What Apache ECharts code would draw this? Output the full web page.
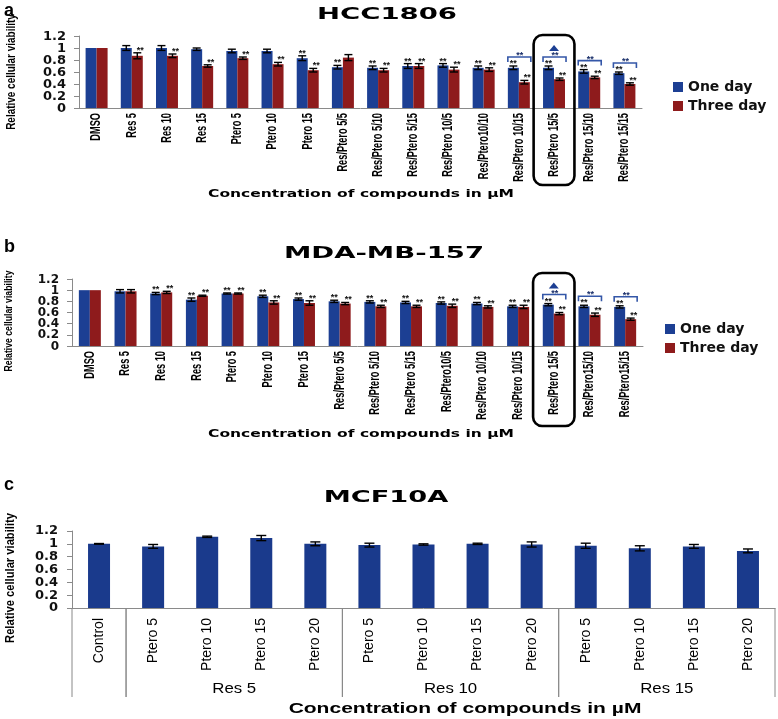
<!DOCTYPE html>
<html><head><meta charset="utf-8">
<script src="https://cdn.jsdelivr.net/npm/echarts@6/dist/echarts.min.js"></script>
<style>html,body{margin:0;padding:0;background:#fff}#c{width:778px;height:719px}</style>
</head><body><div id="c"></div>
<script>
// ---------- Panel a : HCC1806 ----------
const catsA = ['DMSO','Res 5','Res 10','Res 15','Ptero 5','Ptero 10','Ptero 15','Res/Ptero 5/5','Res/Ptero 5/10','Res/Ptero 5/15','Res/Ptero 10/5','Res/Ptero10/10','Res/Ptero 10/15','Res/Ptero 15/5','Res/Ptero 15/10','Res/Ptero 15/15'];
const oneDayA      = [1.00,1.00,1.00,0.98,0.95,0.95,0.83,0.68,0.67,0.70,0.71,0.67,0.67,0.67,0.61,0.58];
const oneDayAErr   = [0,0.04,0.04,0.02,0.03,0.03,0.04,0.03,0.03,0.04,0.03,0.03,0.03,0.03,0.03,0.02];
const threeDayA    = [1.00,0.87,0.87,0.70,0.83,0.73,0.63,0.84,0.63,0.70,0.64,0.64,0.43,0.48,0.51,0.40];
const threeDayAErr = [0,0.05,0.03,0.02,0.02,0.03,0.03,0.05,0.03,0.04,0.04,0.03,0.03,0.02,0.02,0.02];
const starsOneA    = [0,0,0,0,0,0,1,1,1,1,1,1,1,1,1,1];
const starsThreeA  = [0,1,1,1,1,1,1,0,1,1,1,1,1,1,1,1];
const bracketsA    = [12,13,14,15];
const highlightA   = 13;

// ---------- Panel b : MDA-MB-157 ----------
const catsB = ['DMSO','Res 5','Res 10','Res 15','Ptero 5','Ptero 10','Ptero 15','Res/Ptero 5/5','Res/Ptero 5/10','Res/Ptero 5/15','Res/Ptero10/5','Res/Ptero 10/10','Res/Ptero 10/15','Res/Ptero 15/5','Res/Ptero15/10','Res/Ptero15/15'];
const oneDayB      = [1.00,0.98,0.94,0.83,0.94,0.89,0.84,0.80,0.79,0.78,0.77,0.76,0.71,0.74,0.71,0.70];
const oneDayBErr   = [0,0.03,0.02,0.03,0.01,0.02,0.02,0.02,0.02,0.02,0.02,0.02,0.02,0.02,0.02,0.02];
const threeDayB    = [1.00,0.98,0.96,0.90,0.94,0.78,0.77,0.76,0.71,0.71,0.72,0.70,0.70,0.58,0.56,0.48];
const threeDayBErr = [0,0.03,0.02,0.01,0.01,0.03,0.04,0.02,0.02,0.02,0.03,0.02,0.03,0.02,0.03,0.02];
const starsOneB    = [0,0,1,1,1,1,1,1,1,1,1,1,1,1,1,1];
const starsThreeB  = [0,0,1,1,1,1,1,1,1,1,1,1,1,1,1,1];
const bracketsB    = [13,14,15];
const highlightB   = 13;

// ---------- Panel c : MCF10A ----------
const catsC = ['Control','Ptero 5','Ptero 10','Ptero 15','Ptero 20','Ptero 5','Ptero 10','Ptero 15','Ptero 20','Ptero 5','Ptero 10','Ptero 15','Ptero 20'];
const valuesC = [1.00,0.96,1.11,1.09,1.00,0.98,0.99,1.00,0.99,0.97,0.93,0.96,0.89];
const errC    = [0.005,0.03,0.01,0.04,0.03,0.03,0.01,0.01,0.04,0.04,0.04,0.03,0.03];
const groupLabelsC = ['', 'Res 5', 'Res 10', 'Res 15'];
const groupStartC  = [0, 1, 5, 9];
const groupEndC    = [0, 4, 8, 12];

const yTicks = [0, 0.2, 0.4, 0.6, 0.8, 1, 1.2];
const yTickLabels = ['0', '0.2', '0.4', '0.6', '0.8', '1', '1.2'];

// ---------- styling ----------
const BLUE = '#1c3f93', RED = '#8e1b1c', CBLUE = '#1a3a8c';
const WIDE = '"DejaVu Sans", Verdana, sans-serif';
const SANS = '"Liberation Sans", Arial, sans-serif';
const BW = 11; // bar width panels a/b

function errItem(off, cap) {
  return function (params, api) {
    const i = api.value(0), v = api.value(1), e = api.value(2);
    const hi = api.coord([i, v + e]), lo = api.coord([i, v - e]);
    const x = hi[0] + off;
    const st = { stroke: '#000', lineWidth: 1.4 };
    return { type: 'group', children: [
      { type: 'line', shape: { x1: x, y1: hi[1], x2: x, y2: lo[1] }, style: st },
      { type: 'line', shape: { x1: x - cap, y1: hi[1], x2: x + cap, y2: hi[1] }, style: st },
      { type: 'line', shape: { x1: x - cap, y1: lo[1], x2: x + cap, y2: lo[1] }, style: st }
    ] };
  };
}
function starItem(off) {
  return function (params, api) {
    const p = api.coord([api.value(0), api.value(1)]);
    return { type: 'text', x: p[0] + off, y: p[1] + 2,
      style: { text: '**', font: 'bold 9px ' + SANS, fill: '#111', textAlign: 'center', textVerticalAlign: 'bottom' } };
  };
}
function bracketItem(hl) {
  return function (params, api) {
    const i = api.value(0);
    const p = api.coord([i, api.value(1)]);
    const xl = p[0] - 11, xr = p[0] + 12, y = p[1] - 9;
    const ch = [
      { type: 'polyline', shape: { points: [[xl, y + 5], [xl, y], [xr, y], [xr, y + 5]] }, style: { stroke: '#3457a8', lineWidth: 1.6, fill: null } },
      { type: 'text', x: p[0] + 1, y: y + 3, style: { text: '**', font: 'bold 9px ' + SANS, fill: '#1a2f6a', textAlign: 'center', textVerticalAlign: 'bottom' } }
    ];
    if (i === hl) {
      ch.push({ type: 'polygon', shape: { points: [[p[0] - 5, y - 6], [p[0] + 5, y - 6], [p[0], y - 12]] }, style: { fill: BLUE } });
    }
    return { type: 'group', children: ch };
  };
}
function boxItem(topPad, below) {
  return function (params, api) {
    const i = api.value(0);
    const band = api.size([1, 0])[0];
    const top = api.coord([i, 1.2]);
    const bot = api.coord([i, 0]);
    return { type: 'rect', shape: { x: top[0] - band * 0.58, y: top[1] - topPad, width: band * 1.16, height: bot[1] - top[1] + topPad + below, r: 9 },
      style: { stroke: '#000', lineWidth: 2.6, fill: null } };
  };
}
function catLabelItem(labels, gap, size, sx) {
  return function (params, api) {
    const i = api.value(0);
    const p = api.coord([i, 0]);
    return { type: 'text', x: p[0], y: p[1] + gap, rotation: Math.PI / 2, scaleX: sx,
      style: { text: labels[i], font: 'bold ' + size + 'px ' + SANS, fill: '#000', textAlign: 'right', textVerticalAlign: 'middle' } };
  };
}
function yLabelItem(size, gap) {
  return function (params, api) {
    const k = api.value(0);
    const band = api.size([1, 0])[0];
    const p = api.coord([0, yTicks[k]]);
    return { type: 'text', x: p[0] - band / 2 - gap, y: p[1] + 0.5,
      style: { text: yTickLabels[k], font: 'bold ' + size + 'px ' + WIDE, fill: '#111', textAlign: 'right', textVerticalAlign: 'middle' } };
  };
}
function groupItem(params, api) {
  const s = api.value(0), e = api.value(1), gi = api.value(2);
  const band = api.size([1, 0])[0];
  const a = api.coord([s, 0]), b = api.coord([e, 0]);
  const xl = a[0] - band / 2, xr = b[0] + band / 2, y0 = a[1];
  const st = { stroke: '#888', lineWidth: 1 };
  return { type: 'group', children: [
    { type: 'line', shape: { x1: xl, y1: y0, x2: xl, y2: y0 + 89 }, style: st },
    { type: 'line', shape: { x1: xr, y1: y0, x2: xr, y2: y0 + 89 }, style: st },
    { type: 'text', x: (xl + xr) / 2, y: y0 + 81, scaleX: 1.2,
      style: { text: groupLabelsC[gi], font: '14px ' + SANS, fill: '#000', textAlign: 'center', textVerticalAlign: 'middle' } }
  ] };
}

function errData(vals, errs) { return vals.map((v, i) => [i, v, errs[i]]).filter(d => d[2] > 0); }
function starData(vals, errs, flags) { return vals.map((v, i) => [i, v + errs[i]]).filter((d, i) => flags[i]); }
function bracketData(idx, vals, errs) { return idx.map(i => [i, vals[i] + errs[i]]); }

function yAxisCfg(grid, showLabels) {
  return { gridIndex: grid, type: 'value', min: 0, max: 1.2, interval: 0.2,
    axisLine: { show: true, lineStyle: { color: '#8a8a8a', width: 1 } },
    axisTick: { show: true, length: 5, lineStyle: { color: '#8a8a8a' } },
    splitLine: { show: false },
    axisLabel: showLabels ? { margin: 14, showMinLabel: true, showMaxLabel: true,
      fontFamily: WIDE, fontWeight: 'bold', fontSize: 13, color: '#111',
      formatter: v => { const k = yTicks.findIndex(x => Math.abs(x - v) < 1e-6); return k < 0 ? String(v) : yTickLabels[k]; } } : { show: false } };
}
function xAxisCat(grid, data, showLabels) {
  return { gridIndex: grid, type: 'category', data: data,
    axisLine: { lineStyle: { color: '#8a8a8a', width: 1 } }, axisTick: { show: false },
    axisLabel: showLabels ? { interval: 0, rotate: 90, margin: 10, fontFamily: SANS, fontSize: 14, color: '#000' } : { show: false } };
}
function yName(x, y, size, sx) {
  return { type: 'text', x: x, y: y, rotation: Math.PI / 2, scaleX: sx,
    style: { text: 'Relative cellular viability', font: 'bold ' + size + 'px ' + SANS, fill: '#000', textAlign: 'center', textVerticalAlign: 'middle' } };
}

const chart = echarts.init(document.getElementById('c'), null, { renderer: 'canvas' });
const legendBase = { data: ['One day', 'Three day'], orient: 'vertical', icon: 'rect', itemWidth: 10, itemHeight: 10, itemGap: 5,
  textStyle: { fontFamily: WIDE, fontWeight: 'bold', fontSize: 14, color: '#111' } };
const tickIdx = yTicks.map((t, k) => [k]);

const option = {
  animation: false,
  backgroundColor: '#fff',
  grid: [
    { left: 79, right: 136, top: 36, height: 72 },
    { left: 72, right: 135, top: 279, height: 67 },
    { left: 72, right: 3, top: 531, height: 77 }
  ],
  legend: [
    Object.assign({}, legendBase, { left: 668, top: 75 }),
    Object.assign({}, legendBase, { left: 660, top: 317 })
  ],
  xAxis: [xAxisCat(0, catsA, false), xAxisCat(1, catsB, false), xAxisCat(2, catsC, true)],
  yAxis: [yAxisCfg(0, false), yAxisCfg(1, false), yAxisCfg(2, true)],
  graphic: [
    { type: 'text', x: 4, y: 2, style: { text: 'a', font: 'bold 18px ' + SANS, fill: '#000', textVerticalAlign: 'top' } },
    { type: 'text', x: 4, y: 238, style: { text: 'b', font: 'bold 18px ' + SANS, fill: '#000', textVerticalAlign: 'top' } },
    { type: 'text', x: 4, y: 476, style: { text: 'c', font: 'bold 18px ' + SANS, fill: '#000', textVerticalAlign: 'top' } },
    { type: 'text', x: 387, y: 15, scaleX: 1.72, style: { text: 'HCC1806', font: 'bold 16px ' + WIDE, fill: '#000', textAlign: 'center', textVerticalAlign: 'middle' } },
    { type: 'text', x: 384, y: 254, scaleX: 1.72, style: { text: 'MDA-MB-157', font: 'bold 16px ' + WIDE, fill: '#000', textAlign: 'center', textVerticalAlign: 'middle' } },
    { type: 'text', x: 386, y: 498, scaleX: 1.7, style: { text: 'MCF10A', font: 'bold 16px ' + WIDE, fill: '#000', textAlign: 'center', textVerticalAlign: 'middle' } },
    { type: 'text', x: 361, y: 194, scaleX: 1.55, style: { text: 'Concentration of compounds in \u00b5M', font: 'bold 10px ' + WIDE, fill: '#000', textAlign: 'center', textVerticalAlign: 'middle' } },
    { type: 'text', x: 361, y: 434, scaleX: 1.55, style: { text: 'Concentration of compounds in \u00b5M', font: 'bold 10px ' + WIDE, fill: '#000', textAlign: 'center', textVerticalAlign: 'middle' } },
    { type: 'text', x: 465, y: 709, scaleX: 1.5, style: { text: 'Concentration of compounds in \u00b5M', font: 'bold 14px ' + SANS, fill: '#000', textAlign: 'center', textVerticalAlign: 'middle' } },
    yName(12, 72, 12, 0.83),
    yName(9, 321, 11, 0.79),
    yName(10, 578, 13, 0.86)
  ],
  series: [
    // panel a
    { name: 'One day', type: 'bar', xAxisIndex: 0, yAxisIndex: 0, data: oneDayA, barWidth: BW, barGap: '0%', itemStyle: { color: BLUE } },
    { name: 'Three day', type: 'bar', xAxisIndex: 0, yAxisIndex: 0, data: threeDayA, barWidth: BW, barGap: '0%', itemStyle: { color: RED } },
    { name: 'errA1', type: 'custom', xAxisIndex: 0, yAxisIndex: 0, renderItem: errItem(-BW / 2, 4), data: errData(oneDayA, oneDayAErr), z: 5 },
    { name: 'errA3', type: 'custom', xAxisIndex: 0, yAxisIndex: 0, renderItem: errItem(BW / 2, 4), data: errData(threeDayA, threeDayAErr), z: 5 },
    { name: 'starA1', type: 'custom', xAxisIndex: 0, yAxisIndex: 0, clip: false, renderItem: starItem(-BW / 2), data: starData(oneDayA, oneDayAErr, starsOneA), z: 6 },
    { name: 'starA3', type: 'custom', xAxisIndex: 0, yAxisIndex: 0, clip: false, renderItem: starItem(BW / 2 + 3), data: starData(threeDayA, threeDayAErr, starsThreeA), z: 6 },
    { name: 'brA', type: 'custom', xAxisIndex: 0, yAxisIndex: 0, clip: false, renderItem: bracketItem(highlightA), data: bracketData(bracketsA, oneDayA, oneDayAErr), z: 6 },
    { name: 'boxA', type: 'custom', xAxisIndex: 0, yAxisIndex: 0, clip: false, renderItem: boxItem(1, 77), data: [[highlightA]], z: 7 },
    { name: 'labA', type: 'custom', xAxisIndex: 0, yAxisIndex: 0, clip: false, renderItem: catLabelItem(catsA, 5, 14, 0.66), data: catsA.map((c, i) => [i, 0]), z: 6 },
    { name: 'yLabA', type: 'custom', xAxisIndex: 0, yAxisIndex: 0, clip: false, renderItem: yLabelItem(13, 13), data: tickIdx, z: 6 },
    // panel b
    { name: 'One day', type: 'bar', xAxisIndex: 1, yAxisIndex: 1, data: oneDayB, barWidth: BW, barGap: '0%', itemStyle: { color: BLUE } },
    { name: 'Three day', type: 'bar', xAxisIndex: 1, yAxisIndex: 1, data: threeDayB, barWidth: BW, barGap: '0%', itemStyle: { color: RED } },
    { name: 'errB1', type: 'custom', xAxisIndex: 1, yAxisIndex: 1, renderItem: errItem(-BW / 2, 4), data: errData(oneDayB, oneDayBErr), z: 5 },
    { name: 'errB3', type: 'custom', xAxisIndex: 1, yAxisIndex: 1, renderItem: errItem(BW / 2, 4), data: errData(threeDayB, threeDayBErr), z: 5 },
    { name: 'starB1', type: 'custom', xAxisIndex: 1, yAxisIndex: 1, clip: false, renderItem: starItem(-BW / 2), data: starData(oneDayB, oneDayBErr, starsOneB), z: 6 },
    { name: 'starB3', type: 'custom', xAxisIndex: 1, yAxisIndex: 1, clip: false, renderItem: starItem(BW / 2 + 3), data: starData(threeDayB, threeDayBErr, starsThreeB), z: 6 },
    { name: 'brB', type: 'custom', xAxisIndex: 1, yAxisIndex: 1, clip: false, renderItem: bracketItem(highlightB), data: bracketData(bracketsB, oneDayB, oneDayBErr), z: 6 },
    { name: 'boxB', type: 'custom', xAxisIndex: 1, yAxisIndex: 1, clip: false, renderItem: boxItem(6, 80), data: [[highlightB]], z: 7 },
    { name: 'labB', type: 'custom', xAxisIndex: 1, yAxisIndex: 1, clip: false, renderItem: catLabelItem(catsB, 5, 14, 0.66), data: catsB.map((c, i) => [i, 0]), z: 6 },
    { name: 'yLabB', type: 'custom', xAxisIndex: 1, yAxisIndex: 1, clip: false, renderItem: yLabelItem(12, 13), data: tickIdx, z: 6 },
    // panel c
    { name: 'MCF10A', type: 'bar', xAxisIndex: 2, yAxisIndex: 2, data: valuesC, barWidth: 22, itemStyle: { color: CBLUE } },
    { name: 'errC', type: 'custom', xAxisIndex: 2, yAxisIndex: 2, renderItem: errItem(0, 5), data: errData(valuesC, errC), z: 5 },
    { name: 'groupsC', type: 'custom', xAxisIndex: 2, yAxisIndex: 2, clip: false, renderItem: groupItem,
      data: groupStartC.map((s, k) => [s, groupEndC[k], k]), z: 6 }
  ]
};
chart.setOption(option);
</script>
</body></html>
